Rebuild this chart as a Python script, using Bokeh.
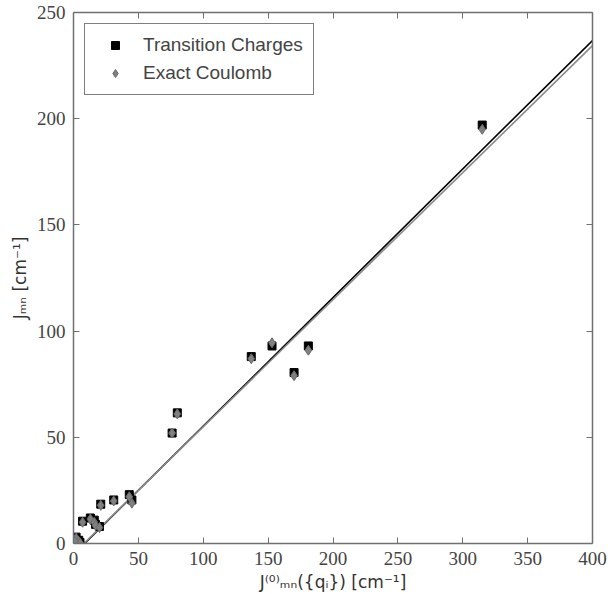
from bokeh.plotting import figure
from bokeh.models import Range1d, LinearAxis, SingleIntervalTicker, Legend, LegendItem
from bokeh.embed import file_html
from bokeh.resources import INLINE

# data
x_vals = [315, 181, 170, 153, 137, 80, 76, 45, 43, 31, 21, 7, 13, 16, 17, 20, 2, 4, 5, 1]
tc_vals = [197, 93, 80.5, 93, 88, 61.5, 52, 20.5, 23, 20.5, 18.5, 10.5, 12, 11, 9, 8, 3, 1.5, 0.5, 1]
ec_vals = [195, 91, 79, 94.5, 87, 61, 52, 19, 22, 20, 18, 10, 11.5, 10, 8.5, 7.5, 2.5, 1, 0.3, 1]

# linear fits (slope, intercept)
fit_tc = (0.605, -5.2)
fit_ec = (0.598, -4.8)
fit_x = [0, 400]

p = figure(width=608, height=594, output_backend="svg", toolbar_location=None,
           x_range=Range1d(0, 400), y_range=Range1d(0, 250),
           frame_width=519, frame_height=531,
           min_border_left=73, min_border_right=16, min_border_top=12, min_border_bottom=51)
p.xgrid.visible = False
p.ygrid.visible = False
p.outline_line_color = None
p.background_fill_color = "white"

axis_color = "#707070"
label_font = "Liberation Serif"

def style_axis(ax, show_labels):
    ax.ticker = SingleIntervalTicker(interval=50)
    ax.axis_line_color = axis_color
    ax.axis_line_width = 1.5
    ax.major_tick_in = 6
    ax.major_tick_out = 0
    ax.major_tick_line_color = axis_color
    ax.major_tick_line_width = 1
    ax.minor_tick_line_color = None
    ax.major_label_text_font = label_font
    ax.major_label_text_font_size = "19px"
    ax.major_label_text_color = "#444444"
    ax.major_label_standoff = 4
    if not show_labels:
        ax.major_label_text_alpha = 0
        ax.major_label_text_font_size = "0px"

bottom = p.xaxis[0]
left = p.yaxis[0]
style_axis(bottom, True)
style_axis(left, True)

top = LinearAxis()
style_axis(top, False)
p.add_layout(top, "above")
right = LinearAxis()
style_axis(right, False)
p.add_layout(right, "right")

bottom.axis_label = "J⁽⁰⁾ₘₙ({qᵢ}) [cm⁻¹]"
left.axis_label = "Jₘₙ [cm⁻¹]"
for ax in (bottom, left):
    ax.axis_label_text_font = "DejaVu Sans"
    ax.axis_label_text_font_style = "normal"
    ax.axis_label_text_font_size = "17px"
    ax.axis_label_text_color = "#333333"
    ax.axis_label_standoff = 4

# fit lines
ytc = [fit_tc[0] * v + fit_tc[1] for v in fit_x]
yec = [fit_ec[0] * v + fit_ec[1] for v in fit_x]
p.line(fit_x, ytc, line_color="black", line_width=1.6)
p.line(fit_x, yec, line_color="#8a8a8a", line_width=1.6)

r_tc = p.scatter(x_vals, tc_vals, marker="square", size=8, fill_color="black", line_color="black")
r_ec = p.scatter(x_vals, ec_vals, marker="diamond", size=10, fill_color="#808080", line_color="#6a6a6a")

legend = Legend(items=[LegendItem(label="Transition Charges", renderers=[r_tc]),
                       LegendItem(label="Exact Coulomb", renderers=[r_ec])],
                location="top_left")
legend.margin = 11
legend.padding = 10
legend.spacing = 6
legend.glyph_width = 40
legend.glyph_height = 20
legend.label_height = 20
legend.label_standoff = 8
legend.label_text_font = "Liberation Sans"
legend.label_text_font_size = "19px"
legend.border_line_color = "black"
legend.border_line_width = 1
legend.background_fill_alpha = 1
p.add_layout(legend, "center")

open("out.html", "w").write(file_html(p, INLINE))
